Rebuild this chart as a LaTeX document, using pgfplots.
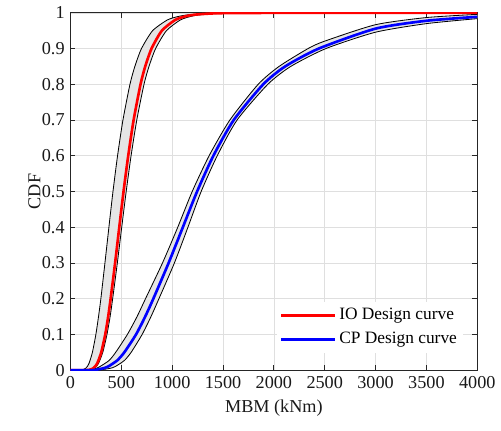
\documentclass[border=0pt]{standalone}
\usepackage{fontspec}
\setmainfont{Liberation Serif}
\usepackage{pgfplots}
\pgfplotsset{compat=1.18}
\usepackage{pgfplotstable}
\usepgfplotslibrary{fillbetween}

\pgfplotstableread{
x y
0 0
90 0
121 0.001
149 0.005
165 0.01
184 0.02
216 0.05
250 0.1
276 0.15
299 0.2
339 0.3
378 0.4
418 0.5
463 0.6
516 0.7
585 0.8
633 0.85
698 0.9
807 0.95
951 0.98
1060 0.99
1171 0.995
1439 0.999
1900 1
4000 1
}\ioL
\pgfplotstableread{
x y
0 0
150 0
188 0.001
223 0.005
242 0.01
265 0.02
303 0.05
342 0.1
371 0.15
395 0.2
439 0.3
480 0.4
522 0.5
568 0.6
621 0.7
689 0.8
735 0.85
797 0.9
898 0.95
1028 0.98
1125 0.99
1221 0.995
1448 0.999
2000 1
4000 1
}\io
\pgfplotstableread{
x y
0 0
160 0
197 0.001
234 0.005
254 0.01
278 0.02
318 0.05
359 0.1
390 0.15
415 0.2
461 0.3
504 0.4
548 0.5
596 0.6
652 0.7
723 0.8
772 0.85
837 0.9
943 0.95
1079 0.98
1181 0.99
1282 0.995
1520 0.999
2100 1
4000 1
}\ioR
\pgfplotstableread{
x y
0 0
200 0
250 0.001
320 0.005
370 0.01
459 0.027
530 0.05
645 0.1
735 0.15
815 0.2
965 0.3
1105 0.4
1245 0.5
1405 0.6
1605 0.7
1895 0.8
2110 0.85
2440 0.9
3000 0.956
3500 0.978
4000 0.989
}\cp
\pgfplotstableread{
x y
0 0
150 0
190 0.001
255 0.005
290 0.01
380 0.027
445 0.05
560 0.1
655 0.15
738 0.2
905 0.3
1055 0.4
1197 0.5
1363 0.6
1567 0.7
1845 0.8
2050 0.85
2335 0.9
2500 0.921
3000 0.967
3500 0.987
4000 0.996
}\cpL
\pgfplotstableread{
x y
0 0
240 0
300 0.001
390 0.005
440 0.01
530 0.027
597 0.05
705 0.1
792 0.15
870 0.2
1022 0.3
1155 0.4
1285 0.5
1443 0.6
1638 0.7
1940 0.8
2165 0.85
2510 0.9
3000 0.946
3500 0.970
4000 0.984
}\cpR

\begin{document}
\begin{tikzpicture}
\begin{axis}[
  set layers,
  scale only axis,
  width=246pt, height=216pt,
  xmin=0, xmax=4000, ymin=0, ymax=1,
  xtick={0,500,...,4000},
  ytick={0,0.1,...,1},
  yticklabels={0,0.1,0.2,0.3,0.4,0.5,0.6,0.7,0.8,0.9,1},
  scaled x ticks=false,
  /pgf/number format/assume math mode=true,
  /pgf/number format/1000 sep={},
  tick align=inside,
  tick pos=both,
  major tick length=3pt,
  grid=major,
  major grid style={gray!25, line width=0.4pt},
  axis line style={black!85, line width=0.5pt},
  every tick/.style={black!85, line width=0.5pt},
  tick label style={font=\fontsize{11}{13}\selectfont, black!90},
  label style={font=\fontsize{11}{13}\selectfont, black!90},
  xlabel={MBM (kNm)},
  ylabel={CDF},
  ylabel shift=-6pt,
  legend style={at={(0.965,0.12)}, anchor=east, draw=none, fill=white,
    font=\fontsize{10.5}{12.5}\selectfont, row sep=2pt, inner sep=2pt,
    nodes={inner xsep=1.5pt}},
  legend cell align=left,
  legend image code/.code={\draw[#1] (0cm,0cm) -- (1.15cm,0cm);},
]
\addplot[name path=ioL, black, line width=0.5pt, smooth, tension=0.4, forget plot] table {\ioL};
\addplot[name path=ioR, black, line width=0.5pt, smooth, tension=0.4, forget plot] table {\ioR};
\addplot[fill=gray!20, draw=none, forget plot] fill between[of=ioL and ioR];
\addplot[name path=cpL, black, line width=0.5pt, smooth, tension=0.4, forget plot] table {\cpL};
\addplot[name path=cpR, black, line width=0.5pt, smooth, tension=0.4, forget plot] table {\cpR};
\addplot[fill=gray!20, draw=none, forget plot] fill between[of=cpL and cpR];
\addplot[red, line width=1.6pt, smooth, tension=0.4] table {\io};
\addlegendentry{IO Design curve}
\addplot[blue, line width=1.6pt, smooth, tension=0.4] table {\cp};
\addlegendentry{CP Design curve}
\end{axis}
\path (-42.6pt,-36.6pt) rectangle (258pt,223.8pt);
\end{tikzpicture}
\end{document}
